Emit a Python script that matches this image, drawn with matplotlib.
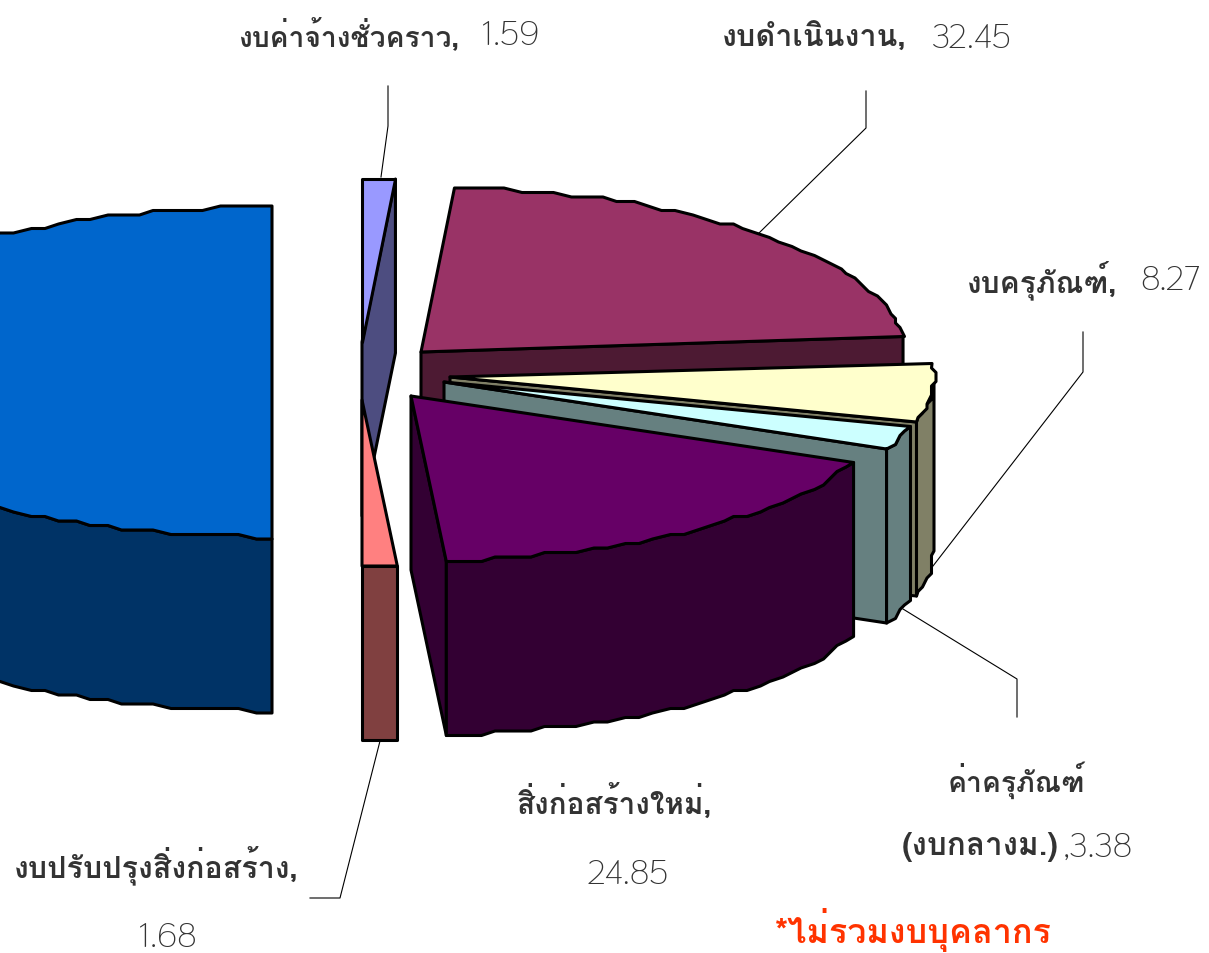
import numpy as np
import matplotlib
matplotlib.use("Agg")
import matplotlib.pyplot as plt
from matplotlib.patches import Polygon

# งบแต่ละประเภท (ร้อยละ) เรียงตามเข็มนาฬิกาจากด้านบน
budget_names = ["งบค่าจ้างชั่วคราว", "งบดำเนินงาน", "งบครุภัณฑ์", "ค่าครุภัณฑ์", "สิ่งก่อสร้างใหม่", "งบปรับปรุงสิ่งก่อสร้าง"]
budget_values = [1.59, 32.45, 8.27, 3.38, 24.85, 1.68]

top_colors = ["#9999FF", "#993366", "#FFFFCC", "#CCFFFF", "#660066", "#FF8080"]
side_colors = ["#4D4D80", "#4D1A33", "#808066", "#668080", "#330033", "#804040"]
# centre of each exploded slice, in pixels
centers = [(362, 343), (421, 353), (450, 378), (444, 383), (411, 397), (362, 401)]
draw_order = [0, 1, 5, 2, 3, 4]

blue_center = (272, 373)
rx, ry, depth = 484, 165, 174
thai_font = ["Loma", "DejaVu Sans"]
num_font = ["Thasadith", "DejaVu Sans"]
text_color = "#333333"


def rim(c, a0, a1):
    ang = np.arange(a0, a1, 2.0)
    ang = np.append(ang, a1)
    x = c[0] + rx * np.sin(np.radians(ang))
    y = c[1] - ry * np.cos(np.radians(ang))
    # old metafile look: the curve snaps to a coarse grid
    x[1:-1] = np.round(x[1:-1] / 4.5) * 4.5
    y = np.round(y / 4.5) * 4.5
    return np.column_stack([x, y])


def face(ax, pts, color):
    ax.add_patch(Polygon(pts, closed=True, facecolor=color, edgecolor="black", lw=2.2, joinstyle="round"))


def draw_slice(ax, c, a0, a1, top, side):
    edge = rim(c, a0, a1)
    # cut face on the clockwise end
    if a1 < 180:
        p = np.array([c, edge[-1]])
        face(ax, np.vstack([p, p[::-1] + [0, depth]]), side)
    # outer wall, only the front half shows
    lo, hi = max(a0, 90), min(a1, 270)
    if lo < hi:
        wall = rim(c, lo, hi)
        face(ax, np.vstack([wall, wall[::-1] + [0, depth]]), side)
    face(ax, np.vstack([[c], edge]), top)


fig = plt.figure(figsize=(12.09, 9.54), dpi=100)
ax = fig.add_axes([0, 0, 1, 1])
ax.set_xlim(0, 1209)
ax.set_ylim(954, 0)
ax.axis("off")

# right half holds the six labelled slices
scale = 180.0 / sum(budget_values)
edges = np.concatenate([[0], np.cumsum(budget_values)]) * scale

draw_slice(ax, blue_center, 180, 360, "#0066CC", "#003366")
for i in draw_order:
    draw_slice(ax, centers[i], edges[i], edges[i + 1], top_colors[i], side_colors[i])

leaders = [
    [(388, 87), (388, 127), (381, 178)],
    [(866, 92), (866, 129), (758, 235)],
    [(1083, 333), (1083, 373), (933, 567)],
    [(1017, 718), (1017, 680), (903, 610)],
    [(310, 899), (340, 899), (380, 742)],
]
for pts in leaders:
    xs, ys = zip(*pts)
    ax.plot(xs, ys, color="black", lw=0.8)


def thai(x, y, s, size=21, ha="left", **kw):
    kw.setdefault("color", text_color)
    ax.text(x, y, s, family=thai_font, fontsize=size, fontweight="bold", ha=ha, va="center", **kw)


def num(x, y, s, size=25, ha="left"):
    ax.text(x, y, s, family=num_font, fontsize=size, color=text_color, ha=ha, va="center")


thai(238, 35, budget_names[0] + ",", size=20.3)
num(482, 35, f"{budget_values[0]:.2f}")
thai(722, 38, budget_names[1] + ",", size=22)
num(932, 38, f"{budget_values[1]:.2f}")
thai(967, 280, budget_names[2] + ",", size=21.6)
num(1140, 280, f"{budget_values[2]:.2f}")
thai(948, 780, budget_names[3], size=20.4)
thai(902, 847, "(งบกลางม.)", size=22.6)
num(1063, 847, f",{budget_values[3]:.2f}")
thai(517, 803, budget_names[4] + ",", size=21.4)
num(628, 874, f"{budget_values[4]:.2f}", ha="center")
thai(14, 866, budget_names[5] + ",", size=21.9)
num(168, 937, f"{budget_values[5]:.2f}", ha="center")
thai(775, 930, "*ไม่รวมงบบุคลากร", size=24.6, color="#FF3300")

fig.savefig("out.png", dpi=100)
